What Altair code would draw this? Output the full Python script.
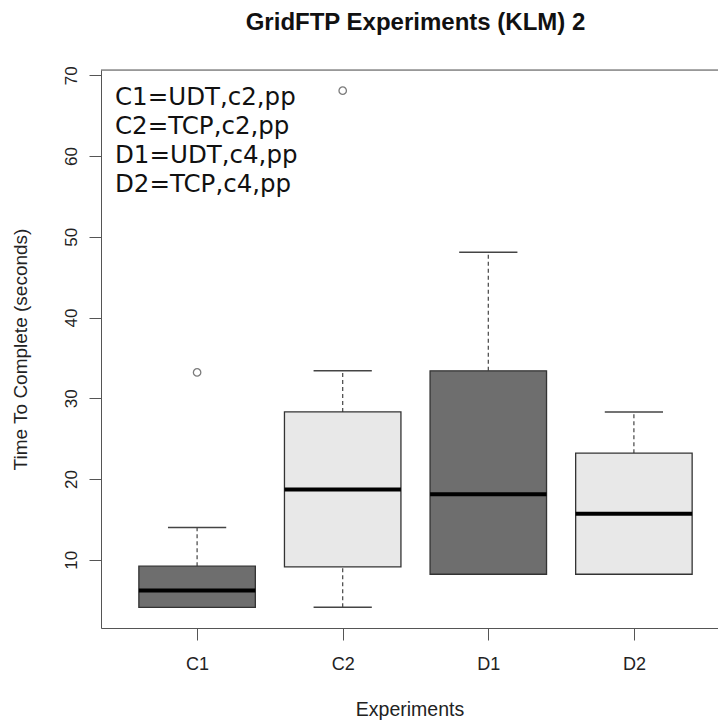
import altair as alt
import pandas as pd

# ---- data ----
experiments = ["C1", "C2", "D1", "D2"]
positions = [1, 2, 3, 4]
whisker_low = [4.1, 4.1, 8.2, 8.2]
q1 = [4.1, 9.1, 8.2, 8.2]
median = [6.2, 18.7, 18.1, 15.7]
q3 = [9.2, 28.3, 33.4, 23.2]
whisker_high = [14.0, 33.4, 48.1, 28.3]
fills = ["#6e6e6e", "#e8e8e8", "#6e6e6e", "#e8e8e8"]
outlier_pos = [1, 2]
outlier_val = [33.2, 68.1]
legend_lines = ["C1=UDT,c2,pp", "C2=TCP,c2,pp", "D1=UDT,c4,pp", "D2=TCP,c4,pp"]
y_ticks = [10, 20, 30, 40, 50, 60, 70]

BOX_HALF = 0.4
CAP_HALF = 0.2

df = pd.DataFrame({
    "exp": experiments, "pos": positions,
    "wlo": whisker_low, "q1": q1, "med": median, "q3": q3, "whi": whisker_high,
    "fill": fills,
})
df["bl"] = df["pos"] - BOX_HALF
df["br"] = df["pos"] + BOX_HALF
df["cl"] = df["pos"] - CAP_HALF
df["cr"] = df["pos"] + CAP_HALF
out = pd.DataFrame({"pos": outlier_pos, "val": outlier_val})

allv = whisker_low + q1 + median + q3 + whisker_high + outlier_val
lo, hi = min(allv), max(allv)
rng = hi - lo
ylo, yhi = lo - 0.04 * rng, hi + 0.04 * rng

FULL_W = 629
W = 617
H = 558
xlo = 0.5 - 0.04 * 4
xspan = 4 + 0.08 * 4
xhi = xlo + xspan * W / FULL_W

label_expr = "[" + ",".join(["''"] + ["'" + e + "'" for e in experiments]) + "][datum.value]"

xs = alt.Scale(domain=[xlo, xhi], nice=False, zero=False)
ys = alt.Scale(domain=[ylo, yhi], nice=False, zero=False)

xaxis = alt.Axis(values=positions, labelExpr=label_expr, title="Experiments",
                 grid=False, tickSize=12, labelPadding=15, titlePadding=27,
                 labelFontSize=18, titleFontSize=19.5, labelFont="Liberation Sans",
                 titleFont="Liberation Sans", titleFontWeight="normal",
                 domainColor="#555", tickColor="#555", labelColor="#222", titleColor="#222")
yaxis = alt.Axis(values=y_ticks, title="Time To Complete (seconds)", grid=False,
                 tickSize=12, labelAngle=270, labelAlign="center", labelBaseline="bottom",
                 labelPadding=9, titlePadding=32, labelFontSize=17, titleFontSize=19,
                 labelFont="Liberation Sans", titleFont="Liberation Sans",
                 titleFontWeight="normal", domainColor="#555", tickColor="#555",
                 labelColor="#222", titleColor="#222")

base = alt.Chart(df)

whisk_up = base.mark_rule(color="#444", strokeDash=[4, 3], strokeWidth=1.2).encode(
    x=alt.X("pos:Q", scale=xs, axis=xaxis), y=alt.Y("q3:Q", scale=ys, axis=yaxis), y2="whi:Q")
whisk_dn = base.mark_rule(color="#444", strokeDash=[4, 3], strokeWidth=1.2).encode(
    x="pos:Q", y="wlo:Q", y2="q1:Q")
cap_up = base.mark_rule(color="#444", strokeWidth=1.5).encode(x="cl:Q", x2="cr:Q", y="whi:Q")
cap_dn = base.mark_rule(color="#444", strokeWidth=1.5).encode(x="cl:Q", x2="cr:Q", y="wlo:Q")
boxes = base.mark_rect(stroke="#333", strokeWidth=1.3).encode(
    x="bl:Q", x2="br:Q", y="q1:Q", y2="q3:Q",
    fill=alt.Fill("fill:N", scale=None, legend=None))
meds = base.mark_rule(color="black", strokeWidth=4).encode(x="bl:Q", x2="br:Q", y="med:Q")
outs = alt.Chart(out).mark_point(shape="circle", filled=False, color="#444",
                                 size=55, strokeWidth=1.3).encode(x="pos:Q", y="val:Q")
top_line = alt.Chart(pd.DataFrame({"v": [yhi]})).mark_rule(color="#555", strokeWidth=1).encode(
    y="v:Q")
legend = alt.Chart(pd.DataFrame({"t": ["\n".join(legend_lines)]})).mark_text(
    align="left", baseline="top", font="DejaVu Sans", fontSize=24.5, lineHeight=29,
    lineBreak="\n", color="#111").encode(text="t:N", x=alt.value(14), y=alt.value(16))

chart = alt.layer(whisk_up, whisk_dn, cap_up, cap_dn, boxes, meds, outs, top_line, legend).properties(
    width=W, height=H,
    title=alt.TitleParams("GridFTP Experiments (KLM) 2", font="Liberation Sans", fontSize=24,
                          fontWeight="bold", anchor="middle", dx=(FULL_W - W) / 2, offset=31,
                          color="#111"),
    autosize=alt.AutoSizeParams(type="none"),
    padding={"left": 101, "top": 70, "right": 0, "bottom": 94},
).configure_view(stroke=None).configure(background="white")

chart.save("out.html", embed_options={"renderer": "svg", "actions": False})
